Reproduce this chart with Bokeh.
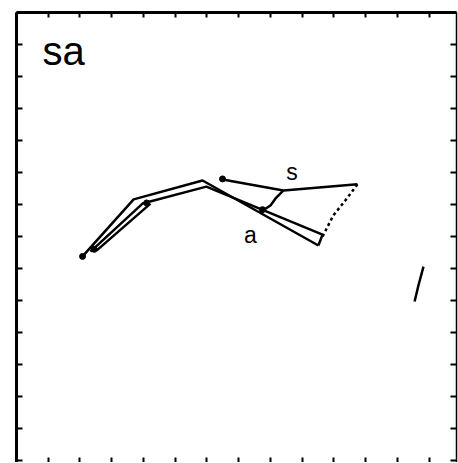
from bokeh.plotting import figure
from bokeh.models import LinearAxis, FixedTicker, Range1d, Label, CustomLabelingPolicy
from bokeh.embed import file_html
from bokeh.resources import INLINE

# Data (in tick units)
outer_x = [2.08, 3.69, 5.86, 9.51]
outer_y = [6.38, 8.16, 8.75, 6.72]
inner_x = [2.33, 3.97, 5.98, 9.64]
inner_y = [6.53, 8.03, 8.56, 7.06]
third_x = [2.52, 4.22]
third_y = [6.56, 8.03]
s_x = [6.49, 8.41, 10.74]
s_y = [8.78, 8.44, 8.63]
wig_x = [8.41, 8.16, 8.00, 7.75]
wig_y = [8.44, 8.19, 7.97, 7.81]
dot_x = [10.74, 10.36, 9.98, 9.64]
dot_y = [8.63, 8.13, 7.66, 7.00]
close_x = [9.51, 9.64]
close_y = [6.72, 7.06]
right_x = [12.54, 12.66, 12.82]
right_y = [4.97, 5.47, 6.06]
blob_x = [2.08, 2.45, 6.49, 7.75, 4.1]
blob_y = [6.38, 6.6, 8.8, 7.84, 8.05]
ticks = list(range(0, 15))

p = figure(width=458, height=462, output_backend="svg", toolbar_location=None,
           x_range=Range1d(0, 13.86), y_range=Range1d(-0.06, 14.0),
           x_axis_location=None, y_axis_location=None,
           min_border_left=16, min_border_top=12, min_border_right=2, min_border_bottom=0)
p.outline_line_color = None
p.grid.visible = False
p.background_fill_color = "white"
p.border_fill_color = "white"

def mk(width, color="black", tin=6):
    ax = LinearAxis(ticker=FixedTicker(ticks=ticks))
    ax.axis_line_width = width
    ax.axis_line_color = color
    ax.major_tick_in = tin
    ax.major_tick_out = 0
    ax.major_tick_line_width = 2
    ax.minor_tick_line_color = None
    ax.major_label_text_font_size = "0px"
    ax.major_label_standoff = 0
    ax.major_label_policy = CustomLabelingPolicy(code="return []")
    return ax

p.add_layout(mk(3), "left")
p.add_layout(mk(3, tin=5), "above")
p.add_layout(mk(1.5), "right")
p.add_layout(mk(0, color=None, tin=5), "below")

for xs, ys in [(outer_x, outer_y), (inner_x, inner_y), (third_x, third_y),
               (s_x, s_y), (wig_x, wig_y), (close_x, close_y), (right_x, right_y)]:
    p.line(xs, ys, line_color="black", line_width=2.5)
p.line(dot_x, dot_y, line_color="black", line_width=2.5, line_dash="3 3")
p.scatter(blob_x, blob_y, size=6, color="black")

p.add_layout(Label(x=0.82, y=12.8, text="sa", text_font="Liberation Sans",
                   text_font_size="40px", text_color="black", text_baseline="alphabetic"))
p.add_layout(Label(x=8.68, y=9.03, text="s", text_font="Liberation Sans",
                   text_font_size="23px", text_color="black", text_align="center",
                   text_baseline="middle"))
p.add_layout(Label(x=7.37, y=7.06, text="a", text_font="Liberation Sans",
                   text_font_size="23px", text_color="black", text_align="center",
                   text_baseline="middle"))

open("out.html", "w").write(file_html(p, INLINE))
